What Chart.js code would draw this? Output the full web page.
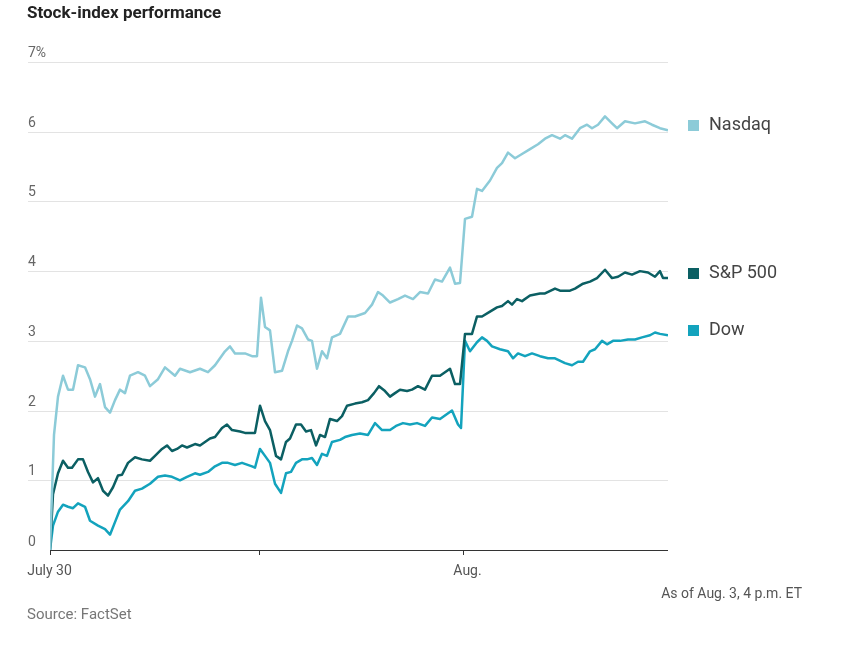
<!DOCTYPE html>
<html><head><meta charset="utf-8">
<script src="https://cdn.jsdelivr.net/npm/chart.js@4"></script>
<style>html,body{margin:0;padding:0;background:#fff}</style>
</head><body>
<canvas id="c" width="867" height="658"></canvas>
<script>
// t = elapsed session time units (0 = July 30 open, 209 = July 31 open, 413 = Aug. 1 open, 618 = Aug. 3 close)
const dayTicks = [0, 209, 413];
const dayLabels = ['July 30', '', 'Aug.'];
const yTickLabels = ['0','1','2','3','4','5','6','7%'];

const nasdaqT = [0,4,8,13,18,23,28,35,40,45,50,55,60,65,70,75,80,88,95,100,108,115,125,130,140,150,158,165,175,180,185,195,202,207,211,215,220,225,232,238,242,247,252,258,262,267,272,277,282,290,298,305,315,322,328,333,340,348,355,363,370,378,385,392,400,405,410,415,422,427,432,440,447,452,458,465,472,480,488,495,502,510,515,522,530,537,542,548,555,562,567,575,585,595,602,610,618];
const nasdaqV = [0,1.65,2.2,2.5,2.3,2.3,2.65,2.62,2.45,2.2,2.38,2.05,1.97,2.15,2.3,2.25,2.5,2.55,2.5,2.35,2.45,2.62,2.5,2.6,2.55,2.6,2.55,2.65,2.85,2.92,2.82,2.82,2.78,2.78,3.62,3.2,3.15,2.55,2.57,2.85,3.0,3.22,3.18,3.02,3.0,2.6,2.85,2.75,3.05,3.1,3.35,3.35,3.4,3.52,3.7,3.65,3.55,3.6,3.65,3.6,3.7,3.68,3.88,3.85,4.05,3.82,3.83,4.75,4.78,5.18,5.15,5.3,5.48,5.55,5.7,5.62,5.68,5.75,5.82,5.9,5.95,5.9,5.95,5.9,6.05,6.1,6.05,6.1,6.22,6.12,6.05,6.15,6.12,6.15,6.1,6.05,6.02];

const spT = [0,3,8,13,18,22,28,33,38,43,48,53,58,63,68,72,78,85,92,100,105,112,117,122,127,132,137,145,150,160,165,172,177,182,190,195,205,210,215,220,226,231,236,240,246,251,256,261,266,270,275,280,287,292,297,305,312,318,324,329,335,340,345,350,357,362,368,375,382,390,400,405,410,415,422,427,432,440,447,452,458,462,467,472,480,490,495,505,510,520,525,533,540,547,555,562,568,575,582,590,598,605,610,613,618];
const spV = [0,0.8,1.1,1.28,1.18,1.18,1.3,1.3,1.12,0.97,1.03,0.85,0.78,0.9,1.07,1.08,1.25,1.33,1.3,1.28,1.35,1.45,1.5,1.42,1.45,1.5,1.47,1.52,1.5,1.6,1.62,1.75,1.8,1.72,1.7,1.68,1.68,2.07,1.85,1.72,1.35,1.3,1.55,1.6,1.8,1.8,1.7,1.72,1.5,1.65,1.62,1.88,1.85,1.92,2.07,2.1,2.12,2.15,2.25,2.35,2.28,2.2,2.25,2.3,2.28,2.3,2.35,2.3,2.5,2.5,2.6,2.38,2.38,3.1,3.1,3.35,3.35,3.42,3.48,3.5,3.57,3.52,3.6,3.57,3.65,3.68,3.68,3.75,3.72,3.72,3.75,3.82,3.85,3.9,4.02,3.9,3.92,3.98,3.95,4.0,3.98,3.92,4.0,3.9,3.9];

const dowT = [0,3,8,13,18,23,28,35,40,48,55,60,65,70,78,85,92,100,108,115,122,130,137,145,150,158,165,172,178,185,192,202,205,210,215,220,225,231,236,241,246,252,257,262,267,272,277,282,290,295,302,310,318,325,332,340,346,353,360,367,375,382,390,402,408,411,415,420,427,432,437,442,450,458,463,468,475,482,490,498,505,515,522,528,533,540,545,552,557,563,570,578,585,592,600,605,610,618];
const dowV = [0,0.35,0.55,0.65,0.62,0.6,0.67,0.62,0.42,0.35,0.3,0.22,0.4,0.58,0.7,0.85,0.88,0.95,1.05,1.07,1.05,1.0,1.05,1.1,1.08,1.12,1.2,1.25,1.25,1.22,1.25,1.2,1.18,1.45,1.35,1.25,0.95,0.82,1.1,1.12,1.25,1.3,1.3,1.32,1.22,1.38,1.35,1.55,1.58,1.62,1.65,1.67,1.65,1.82,1.72,1.72,1.78,1.82,1.8,1.82,1.78,1.9,1.88,2.0,1.8,1.75,3.0,2.85,2.98,3.05,3.0,2.92,2.88,2.85,2.75,2.82,2.78,2.82,2.78,2.75,2.75,2.68,2.65,2.7,2.7,2.85,2.88,3.0,2.95,3.0,3.0,3.02,3.02,3.05,3.08,3.12,3.1,3.08];

const names = ['Nasdaq','S&P 500','Dow'];
const colors = ['#8ccbd8','#0b5f63','#13a3bd'];
const pts = (t,v)=>t.map((x,i)=>({x, y:v[i]}));

const FONT = 'Roboto, "Liberation Sans", sans-serif';
const deco = {
  id:'deco',
  beforeDatasetsDraw(ch){
    const {ctx, chartArea:a, scales:{x,y}} = ch;
    ctx.save();
    ctx.strokeStyle='#e3e3e3'; ctx.lineWidth=1;
    ctx.fillStyle='#666'; ctx.font='14px '+FONT; ctx.textBaseline='bottom'; ctx.textAlign='left';
    for(let i=1;i<=7;i++){
      const py=Math.round(y.getPixelForValue(i))+0.5;
      ctx.beginPath(); ctx.moveTo(28,py); ctx.lineTo(a.right,py); ctx.stroke();
      ctx.fillText(yTickLabels[i],28,py-2);
    }
    ctx.fillText(yTickLabels[0],28,a.bottom-1);
    ctx.restore();
  },
  afterDraw(ch){
    const {ctx, chartArea:a, scales:{x,y}} = ch;
    ctx.save();
    ctx.strokeStyle='#333'; ctx.lineWidth=1;
    ctx.beginPath(); ctx.moveTo(a.left,a.bottom+0.5); ctx.lineTo(a.right,a.bottom+0.5); ctx.stroke();
    ctx.fillStyle='#555'; ctx.font='14px '+FONT; ctx.textBaseline='top'; ctx.textAlign='center';
    dayTicks.forEach((t,i)=>{
      const px=Math.round(x.getPixelForValue(t))+0.5;
      ctx.beginPath(); ctx.moveTo(px,a.bottom); ctx.lineTo(px,a.bottom+5); ctx.stroke();
      if(dayLabels[i]) ctx.fillText(dayLabels[i],px+(i===0?-1:4),a.bottom+14);
    });
    // legend
    const ly=[125,273,330];
    ctx.font='18px '+FONT; ctx.textAlign='left'; ctx.textBaseline='middle'; ctx.fillStyle='#444';
    names.forEach((n,i)=>{
      ctx.fillStyle=colors[i]; ctx.fillRect(688,ly[i]-5,11,11);
      ctx.fillStyle='#444'; ctx.fillText(n,709,ly[i]);
    });
    ctx.font='bold 17px '+FONT; ctx.fillStyle='#222'; ctx.textBaseline='top';
    ctx.fillText('Stock-index performance',27,5);
    ctx.font='14px '+FONT; ctx.fillStyle='#555'; ctx.textAlign='right';
    ctx.fillText('As of Aug. 3, 4 p.m. ET',802,587);
    ctx.textAlign='left'; ctx.fillStyle='#777'; ctx.font='15px '+FONT;
    ctx.fillText('Source: FactSet',27,608);
    ctx.restore();
  }
};

new Chart(document.getElementById('c'),{
  type:'line',
  data:{datasets:[
    {data:pts(nasdaqT,nasdaqV),borderColor:colors[0]},
    {data:pts(spT,spV),borderColor:colors[1]},
    {data:pts(dowT,dowV),borderColor:colors[2]}
  ].map(d=>Object.assign(d,{borderWidth:2.5,pointRadius:0,tension:0,borderJoinStyle:'round'}))},
  options:{
    responsive:false, animation:false,
    layout:{padding:{left:50,right:199,top:62,bottom:108}},
    plugins:{legend:{display:false},tooltip:{enabled:false}},
    scales:{
      x:{type:'linear',min:0,max:618,display:false},
      y:{min:0,max:7,display:false}
    }
  },
  plugins:[deco]
});
</script>
</body></html>
